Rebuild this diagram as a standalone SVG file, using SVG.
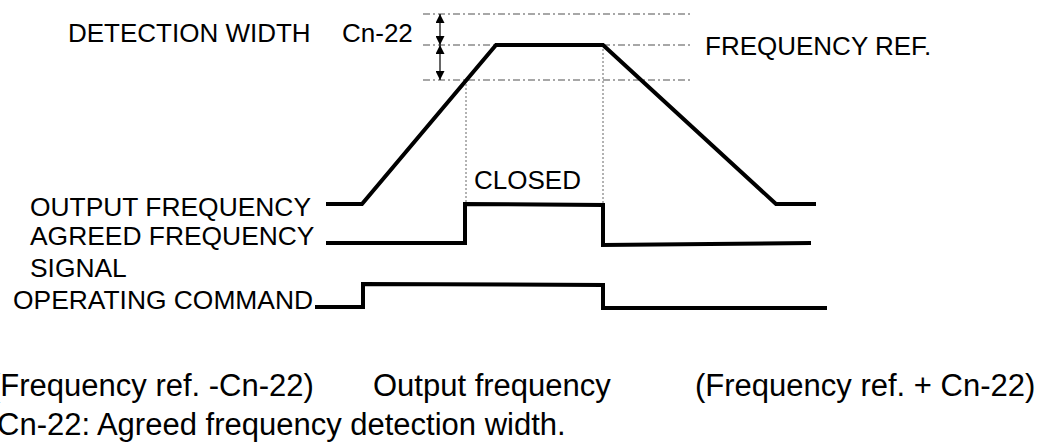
<svg xmlns="http://www.w3.org/2000/svg" width="1054" height="442" viewBox="0 0 1054 442">
  <style>
    .t { font-family: "Liberation Sans", Arial, sans-serif; font-size: 26px; fill: #000; }
    .l { font-family: "Liberation Sans", Arial, sans-serif; font-size: 26.4px; fill: #000; }
    .b { font-family: "Liberation Sans", Arial, sans-serif; font-size: 31px; fill: #000; }
    .wave { fill: none; stroke: #000; stroke-width: 4; stroke-linejoin: miter; }
    .ref { fill: none; stroke: #8a8a8a; stroke-width: 1.5; stroke-dasharray: 7 3 2 3; }
    .dot { fill: none; stroke: #666; stroke-width: 1; stroke-dasharray: 2 2; }
    .arr { fill: none; stroke: #000; stroke-width: 1.2; }
  </style>
  <defs>
    <marker id="ah" viewBox="0 0 10 10" refX="10" refY="5" markerWidth="9" markerHeight="9" markerUnits="userSpaceOnUse" orient="auto-start-reverse">
      <path d="M0,0 L10,5 L0,10 Z" fill="#000"/>
    </marker>
  </defs>
  <rect width="1054" height="442" fill="#fff"/>

  <g id="reference-lines">
    <line class="ref" x1="423" y1="14" x2="693" y2="14"/>
    <line class="ref" x1="423" y1="45" x2="693" y2="45"/>
    <line class="ref" x1="423" y1="80" x2="693" y2="80"/>
    <line class="dot" x1="466" y1="80" x2="466" y2="203"/>
    <line class="dot" x1="603" y1="45" x2="603" y2="203"/>
  </g>

  <g id="connectors">
    <line class="arr" x1="440" y1="14" x2="440" y2="45" marker-start="url(#ah)" marker-end="url(#ah)"/>
    <line class="arr" x1="440" y1="45" x2="440" y2="80" marker-start="url(#ah)" marker-end="url(#ah)"/>
  </g>

  <g id="output-frequency">
    <polyline class="wave" points="326,204 362,204 496,45 603,45 776,204 816,204"/>
  </g>
  <g id="agreed-frequency-signal">
    <polyline class="wave" points="326,243 465,243 465,204 603,205 603,245 811,243"/>
  </g>
  <g id="operating-command">
    <polyline class="wave" points="315,307 363,307 363,284 603,285 603,308 827,308"/>
  </g>

  <g id="labels">
    <text class="t" x="68" y="42">DETECTION WIDTH</text>
    <text class="t" x="342" y="42">Cn-22</text>
    <text class="t" x="705" y="55">FREQUENCY REF.</text>
    <text class="t" x="474" y="189">CLOSED</text>
    <text class="l" x="30" y="216">OUTPUT FREQUENCY</text>
    <text class="l" x="30" y="245">AGREED FREQUENCY</text>
    <text class="l" x="30" y="277">SIGNAL</text>
    <text class="l" x="13" y="309">OPERATING COMMAND</text>
  </g>

  <g id="notes">
    <text class="b" x="-10" y="396">(Frequency ref. -Cn-22)</text>
    <text class="b" x="373" y="396">Output frequency</text>
    <text class="b" x="695" y="396">(Frequency ref. + Cn-22)</text>
    <text class="b" x="-3" y="435">Cn-22: Agreed frequency detection width.</text>
  </g>
</svg>
